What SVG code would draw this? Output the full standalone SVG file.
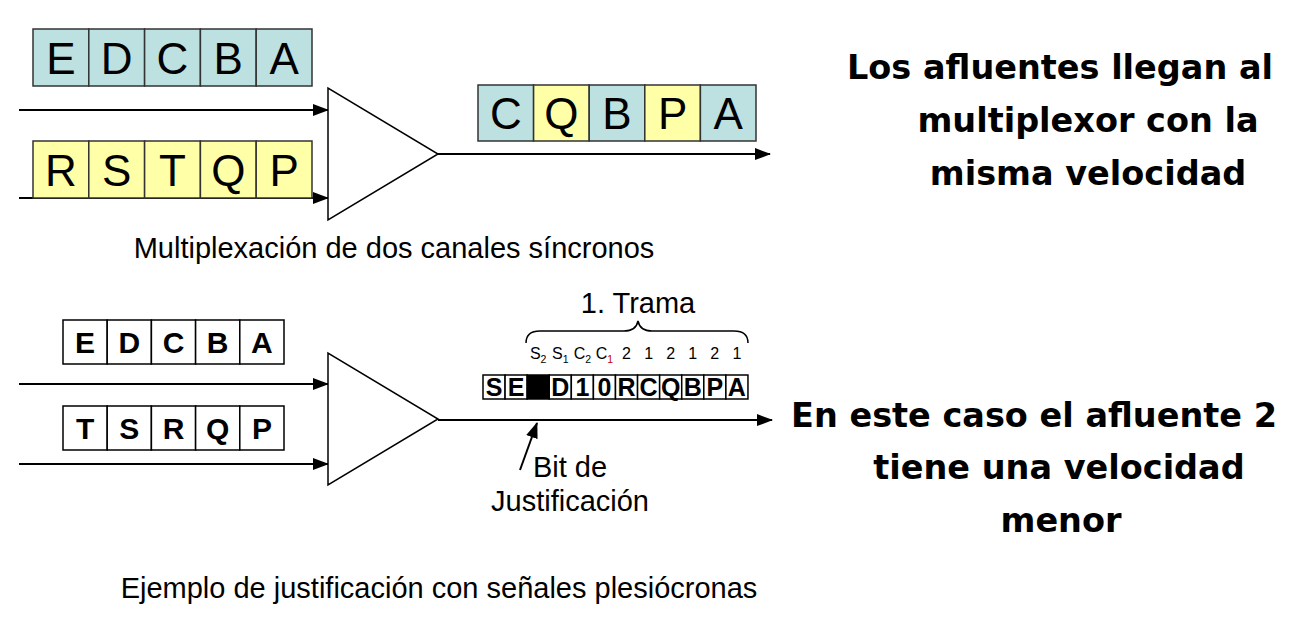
<svg xmlns="http://www.w3.org/2000/svg" width="1304" height="624" viewBox="0 0 1304 624">
<style>
.b{fill:#bde0e0;stroke:#333;stroke-width:1.5}
.y{fill:#ffffa8;stroke:#333;stroke-width:1.5}
.w{fill:#fff;stroke:#000;stroke-width:1.5}
.k{fill:#000;stroke:#000;stroke-width:1.5}
.L{font-family:"Liberation Sans",Arial,sans-serif;font-size:44px;text-anchor:middle;fill:#000}
.M{font-family:"Liberation Sans",Arial,sans-serif;font-size:30px;font-weight:bold;text-anchor:middle;fill:#000}
.F{font-family:"Liberation Sans",Arial,sans-serif;font-size:25px;font-weight:bold;text-anchor:middle;fill:#000}
.s{font-family:"Liberation Sans",Arial,sans-serif;font-size:16px;text-anchor:middle;fill:#000}
.c{font-family:"Liberation Sans",Arial,sans-serif;font-size:29px;fill:#000}
.R{font-family:"DejaVu Sans",Verdana,sans-serif;font-size:33.5px;font-weight:bold;text-anchor:middle;fill:#000}
.ln{stroke:#000;stroke-width:2;fill:none}
.tri{fill:#fff;stroke:#000;stroke-width:1.5}
</style>
<defs>
<marker id="ah" viewBox="0 0 16 12" refX="15" refY="6" markerWidth="16" markerHeight="12" markerUnits="userSpaceOnUse" orient="auto">
<path d="M0,0 L16,6 L0,12 z" fill="#000"/>
</marker>
</defs>
<rect width="1304" height="624" fill="#fff"/>

<g id="connectors">
<line class="ln" x1="19" y1="110" x2="328" y2="110" marker-end="url(#ah)"/>
<line class="ln" x1="19" y1="198" x2="328" y2="198" marker-end="url(#ah)"/>
<line class="ln" x1="438" y1="154" x2="770" y2="154" marker-end="url(#ah)"/>
<line class="ln" x1="19" y1="384" x2="328" y2="384" marker-end="url(#ah)"/>
<line class="ln" x1="19" y1="464" x2="328" y2="464" marker-end="url(#ah)"/>
<line class="ln" x1="438" y1="420" x2="772" y2="420" marker-end="url(#ah)"/>
<line class="ln" x1="520" y1="470" x2="537" y2="423" marker-end="url(#ah)"/>
</g>

<g id="tributary1-sync">
<rect class="b" x="33" y="29" width="55.8" height="57"/>
<rect class="b" x="88.8" y="29" width="55.8" height="57"/>
<rect class="b" x="144.6" y="29" width="55.8" height="57"/>
<rect class="b" x="200.4" y="29" width="55.8" height="57"/>
<rect class="b" x="256.2" y="29" width="55.8" height="57"/>
<text class="L" x="60.9" y="73.5">E</text>
<text class="L" x="116.7" y="73.5">D</text>
<text class="L" x="172.5" y="73.5">C</text>
<text class="L" x="228.3" y="73.5">B</text>
<text class="L" x="284.1" y="73.5">A</text>
</g>

<g id="tributary2-sync">
<rect class="y" x="33" y="141" width="55.8" height="57"/>
<rect class="y" x="88.8" y="141" width="55.8" height="57"/>
<rect class="y" x="144.6" y="141" width="55.8" height="57"/>
<rect class="y" x="200.4" y="141" width="55.8" height="57"/>
<rect class="y" x="256.2" y="141" width="55.8" height="57"/>
<text class="L" x="60.9" y="185.5">R</text>
<text class="L" x="116.7" y="185.5">S</text>
<text class="L" x="172.5" y="185.5">T</text>
<text class="L" x="228.3" y="185.5">Q</text>
<text class="L" x="284.1" y="185.5">P</text>
</g>

<g id="mux1">
<polygon class="tri" points="328,88 328,220 438,154"/>
</g>

<g id="output-sync">
<rect class="b" x="478" y="85" width="55.6" height="56"/>
<rect class="y" x="533.6" y="85" width="55.6" height="56"/>
<rect class="b" x="589.2" y="85" width="55.6" height="56"/>
<rect class="y" x="644.8" y="85" width="55.6" height="56"/>
<rect class="b" x="700.4" y="85" width="55.6" height="56"/>
<text class="L" x="505.8" y="128.5">C</text>
<text class="L" x="561.4" y="128.5">Q</text>
<text class="L" x="617" y="128.5">B</text>
<text class="L" x="672.6" y="128.5">P</text>
<text class="L" x="728.2" y="128.5">A</text>
</g>

<g id="caption1">
<text class="c" x="394" y="258" text-anchor="middle">Multiplexación de dos canales síncronos</text>
</g>

<g id="note1">
<text class="R" x="1060" y="79">Los afluentes llegan al</text>
<text class="R" x="1088" y="132">multiplexor con la</text>
<text class="R" x="1088" y="185">misma velocidad</text>
</g>

<g id="tributary1-plesio">
<rect class="w" x="63" y="320" width="44.2" height="44"/>
<rect class="w" x="107.2" y="320" width="44.2" height="44"/>
<rect class="w" x="151.4" y="320" width="44.2" height="44"/>
<rect class="w" x="195.6" y="320" width="44.2" height="44"/>
<rect class="w" x="239.8" y="320" width="44.2" height="44"/>
<text class="M" x="85.1" y="353">E</text>
<text class="M" x="129.3" y="353">D</text>
<text class="M" x="173.5" y="353">C</text>
<text class="M" x="217.7" y="353">B</text>
<text class="M" x="261.9" y="353">A</text>
</g>

<g id="tributary2-plesio">
<rect class="w" x="63" y="406" width="44.2" height="44"/>
<rect class="w" x="107.2" y="406" width="44.2" height="44"/>
<rect class="w" x="151.4" y="406" width="44.2" height="44"/>
<rect class="w" x="195.6" y="406" width="44.2" height="44"/>
<rect class="w" x="239.8" y="406" width="44.2" height="44"/>
<text class="M" x="85.1" y="439">T</text>
<text class="M" x="129.3" y="439">S</text>
<text class="M" x="173.5" y="439">R</text>
<text class="M" x="217.7" y="439">Q</text>
<text class="M" x="261.9" y="439">P</text>
</g>

<g id="mux2">
<polygon class="tri" points="328,353 328,485 438,419"/>
</g>

<g id="frame">
<rect class="w" x="483" y="375" width="22.08" height="24"/>
<rect class="w" x="505.08" y="375" width="22.08" height="24"/>
<rect class="k" x="527.16" y="375" width="22.08" height="24"/>
<rect class="w" x="549.24" y="375" width="22.08" height="24"/>
<rect class="w" x="571.32" y="375" width="22.08" height="24"/>
<rect class="w" x="593.4" y="375" width="22.08" height="24"/>
<rect class="w" x="615.48" y="375" width="22.08" height="24"/>
<rect class="w" x="637.56" y="375" width="22.08" height="24"/>
<rect class="w" x="659.64" y="375" width="22.08" height="24"/>
<rect class="w" x="681.72" y="375" width="22.08" height="24"/>
<rect class="w" x="703.8" y="375" width="22.08" height="24"/>
<rect class="w" x="725.88" y="375" width="22.08" height="24"/>
<text class="F" x="494" y="396">S</text>
<text class="F" x="516.1" y="396">E</text>
<text class="F" x="560.3" y="396">D</text>
<text class="F" x="582.4" y="396">1</text>
<text class="F" x="604.4" y="396">0</text>
<text class="F" x="626.5" y="396">R</text>
<text class="F" x="648.6" y="396">C</text>
<text class="F" x="670.7" y="396">Q</text>
<text class="F" x="692.8" y="396">B</text>
<text class="F" x="714.8" y="396">P</text>
<text class="F" x="736.9" y="396">A</text>
</g>

<g id="frame-labels">
<text class="s" x="538.2" y="359">S<tspan font-size="10.5" dy="4">2</tspan></text>
<text class="s" x="560.3" y="359">S<tspan font-size="10.5" dy="4">1</tspan></text>
<text class="s" x="582.4" y="359">C<tspan font-size="10.5" dy="4">2</tspan></text>
<text class="s" x="604.4" y="359">C<tspan font-size="10.5" dy="4" fill="#c00000">1</tspan></text>
<text class="s" x="626.5" y="359">2</text>
<text class="s" x="648.6" y="359">1</text>
<text class="s" x="670.7" y="359">2</text>
<text class="s" x="692.8" y="359">1</text>
<text class="s" x="714.8" y="359">2</text>
<text class="s" x="736.9" y="359">1</text>
</g>

<g id="frame-brace">
<path class="ln" style="stroke-width:1.5" d="M526,343 Q526,331 540,331 L624,331 Q636,331 638,321 Q640,331 652,331 L734,331 Q748,331 748,343"/>
<text class="c" x="638" y="313" text-anchor="middle">1. Trama</text>
</g>

<g id="justification-label">
<text class="c" x="570" y="477" text-anchor="middle">Bit de</text>
<text class="c" x="570" y="511" text-anchor="middle">Justificación</text>
</g>

<g id="caption2">
<text class="c" x="439" y="598" text-anchor="middle">Ejemplo de justificación con señales plesiócronas</text>
</g>

<g id="note2">
<text class="R" x="1034" y="427">En este caso el afluente 2</text>
<text class="R" x="1059" y="479">tiene una velocidad</text>
<text class="R" x="1061" y="532">menor</text>
</g>
</svg>
